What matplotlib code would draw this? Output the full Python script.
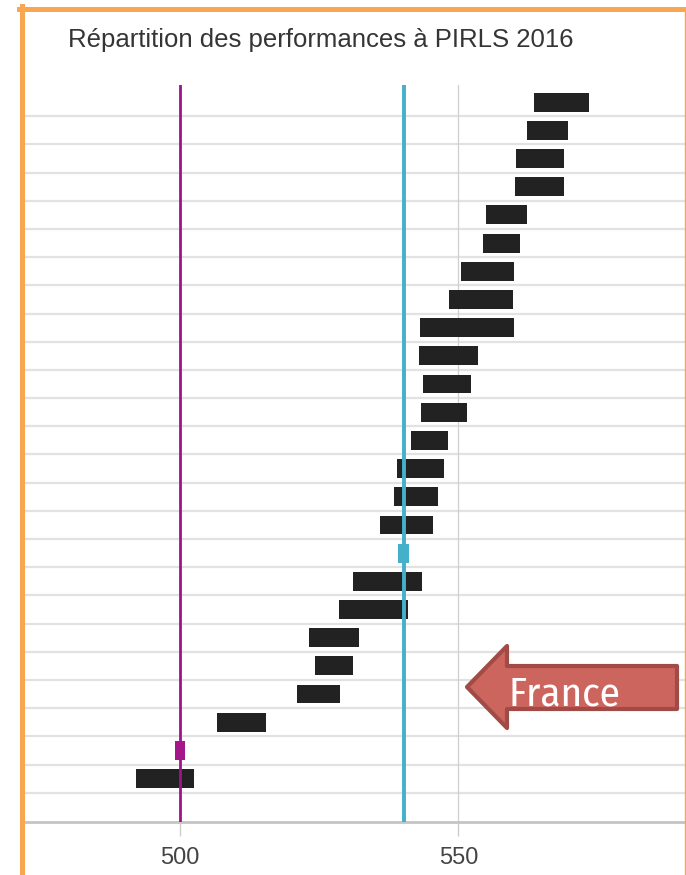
import numpy as np
import matplotlib
matplotlib.use("Agg")
import matplotlib.pyplot as plt
from matplotlib.patches import Polygon
from matplotlib.lines import Line2D

plt.rcParams['font.family'] = ['Liberation Sans', 'DejaVu Sans']

title = "Répartition des performances à PIRLS 2016"

# rows from top (0) to bottom; row 25 is left empty
bar_rows = [0, 1, 2, 3, 4, 5, 6, 7, 8, 9, 10, 11, 12, 13, 14, 15,
            17, 18, 19, 20, 21, 22, 24]
bar_low = [563.6, 562.3, 560.4, 560.2, 554.9, 554.4, 550.4, 548.4, 543.1,
           542.9, 543.6, 543.3, 541.5, 539.0, 538.5, 536.0,
           531.0, 528.5, 523.2, 524.2, 521.1, 506.7, 492.1]
bar_high = [573.5, 569.6, 568.9, 569.0, 562.4, 561.1, 560.0, 559.9, 560.0,
            553.5, 552.3, 551.6, 548.1, 547.4, 546.3, 545.5,
            543.5, 541.0, 532.2, 531.1, 528.8, 515.5, 502.5]
n_rows = 26

# reference averages (value, row)
avg_cyan = 540.2
avg_cyan_row = 16
avg_mag = 500
avg_mag_row = 23

xticks = [500, 550]
xlim = (472.0, 590.7)

W, H = 686, 875
fig = plt.figure(figsize=(W / 100, H / 100), dpi=100)
ax = fig.add_axes([24 / W, 1 - 822 / H, (685 - 24) / W, (822 - 85) / H])

# horizontal separators between rows
for k in range(n_rows - 1):
    ax.axhline(k + 0.5, color='#e2e2e2', lw=1.6, zorder=0)
for t in xticks:
    ax.axvline(t, color='#cfcfcf', lw=0.9, zorder=0)

low = np.array(bar_low)
high = np.array(bar_high)
ax.barh(bar_rows, high - low, left=low, height=0.67, color='#222222', zorder=2)

ax.axvline(avg_mag, color='#a0138a', lw=2.0, zorder=3)
ax.axvline(avg_cyan, color='#45b0c9', lw=2.8, zorder=3)
ax.barh([avg_mag_row], [1.9], left=avg_mag - 0.95, height=0.67,
        color='#a4168a', zorder=4)
ax.barh([avg_cyan_row], [2.0], left=avg_cyan - 1.0, height=0.67,
        color='#45b0c9', zorder=4)

ax.set_xlim(*xlim)
ax.set_ylim(25.54, -0.61)
ax.set_yticks([])
ax.set_xticks(xticks)
ax.set_xticklabels([str(t) for t in xticks])
ax.tick_params(axis='x', length=10, width=1, color='#cccccc', pad=8,
               labelsize=17, labelcolor='#444444')
for s in ['top', 'right', 'left']:
    ax.spines[s].set_visible(False)
ax.spines['bottom'].set_color('#c4c4c4')
ax.spines['bottom'].set_linewidth(2)

fig.text(68 / W, 1 - 47.5 / H, title, ha='left', va='baseline',
         fontsize=18.5, color='#353535')

# "France" block arrow drawn in figure pixels
pts = [(467, 687), (507, 646), (507, 666), (677, 666), (677, 709),
       (507, 709), (507, 728)]
arrow = Polygon([(x / W, 1 - y / H) for x, y in pts], closed=True,
                transform=fig.transFigure, facecolor='#cd655f',
                edgecolor='#a04b46', lw=3, joinstyle='round', zorder=5)
fig.add_artist(arrow)
fig.text(509 / W, 1 - 705 / H, "France", ha='left', va='baseline',
         fontsize=29.5, fontweight='normal', color='white', zorder=6,
         family=['Fira Sans Condensed', 'Liberation Sans'])

# orange frame of the screenshot
orange = '#f9a650'
fig.add_artist(Line2D([21.5 / W, 21.5 / W], [0, 1 - 6 / H], color=orange,
                      lw=3.6, transform=fig.transFigure))
fig.add_artist(Line2D([19 / W, 686 / W], [1 - 8.5 / H, 1 - 8.5 / H],
                      color=orange, lw=3.6, transform=fig.transFigure))
fig.add_artist(Line2D([685 / W, 685 / W], [0, 1 - 8 / H], color=orange,
                      lw=1.0, transform=fig.transFigure))

fig.savefig("out.png", dpi=100)
